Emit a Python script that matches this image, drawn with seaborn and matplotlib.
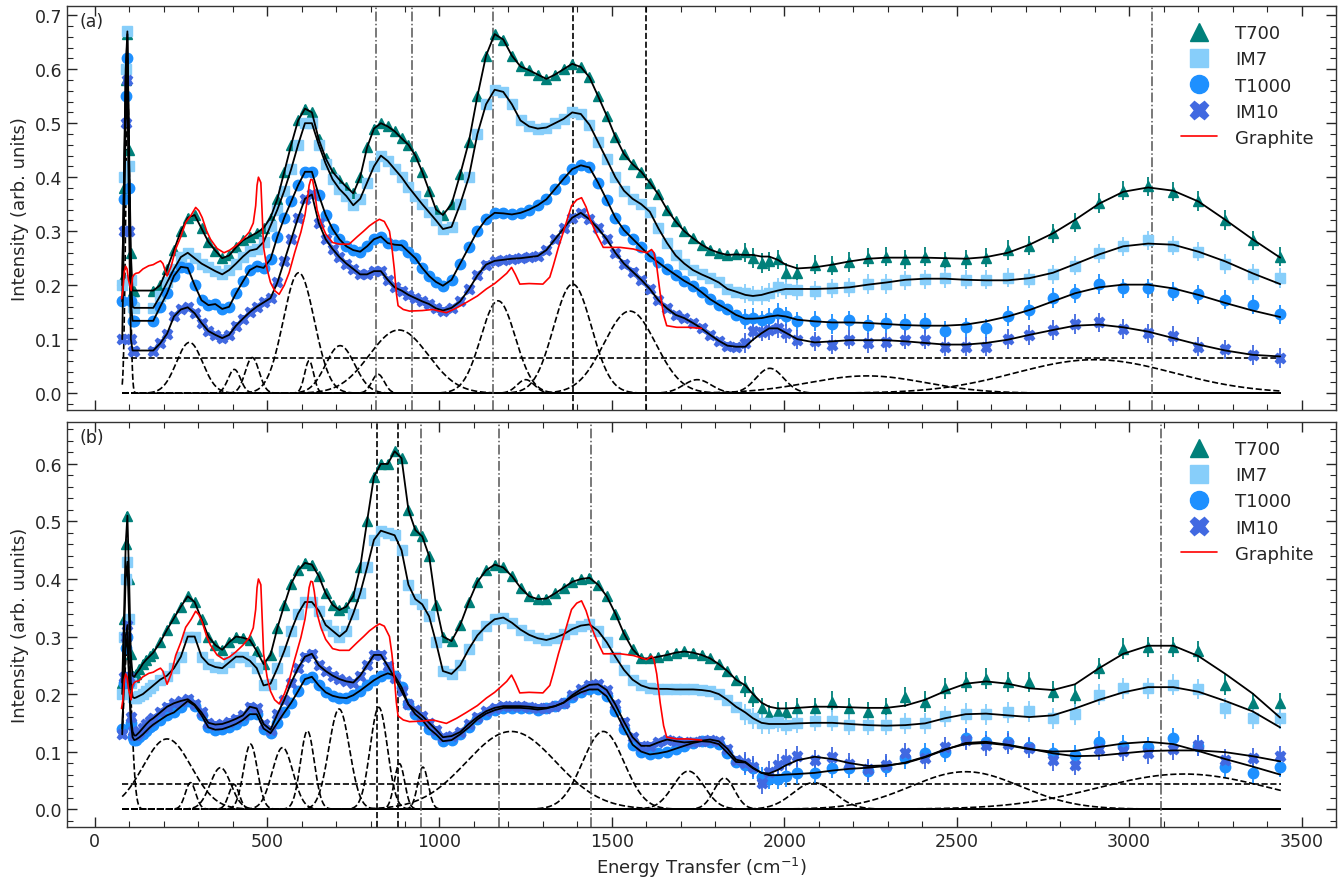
import numpy as np
import pandas as pd
import seaborn as sns
import matplotlib.pyplot as plt
from matplotlib.lines import Line2D
from matplotlib.ticker import MultipleLocator

nan = np.nan

# ---- energy grid (cm^-1) ----
x_lo = [80, 85, 90, 95, 100, 105, 110, 115, 120, 130, 140, 150, 160, 170,
        190, 210, 230, 250, 270, 290, 310, 330, 350, 370, 390, 410, 430, 450, 470, 490,
        510, 530, 550, 570, 590, 610, 630, 650, 670, 690, 710, 730, 750, 770, 790,
        810, 830, 850, 870, 890, 910, 930, 950, 970, 990, 1010,
        1035, 1060, 1085, 1110, 1135, 1160, 1185, 1210, 1235, 1260, 1285, 1310, 1335,
        1360, 1385, 1410, 1435, 1460, 1485, 1510, 1535, 1560, 1585, 1610, 1635, 1660,
        1685, 1710, 1735, 1760, 1785, 1810, 1835, 1860]
x_hi = [1887, 1909, 1934, 1956, 1981, 2004, 2038, 2088, 2139, 2189, 2243, 2296, 2351,
        2408, 2466, 2526, 2585, 2648, 2711, 2779, 2843, 2913, 2983, 3055, 3128, 3201,
        3279, 3358, 3438]

# ---- panel (a) ----
t700_a = [0.21, 0.38, 0.58, 0.665, 0.45, 0.26, 0.19, 0.19, nan, nan, nan, nan, nan, 0.19,
          0.20, 0.23, 0.265, 0.30, 0.325, 0.33, 0.305, 0.28, 0.264, 0.25, 0.255, 0.27, 0.283, 0.29, 0.297, 0.306,
          0.325, 0.36, 0.41, 0.46, 0.505, 0.527, 0.52, 0.47, 0.435, 0.41, 0.395, 0.382, 0.37, 0.40, 0.455,
          0.49, 0.50, 0.494, 0.485, 0.472, 0.46, 0.44, 0.41, 0.375, 0.34, 0.33,
          0.35, 0.405, 0.465, 0.55, 0.625, 0.665, 0.655, 0.625, 0.605, 0.598, 0.59, 0.582, 0.59,
          0.60, 0.61, 0.604, 0.585, 0.55, 0.514, 0.475, 0.443, 0.424, 0.41, 0.39, 0.368, 0.34,
          0.318, 0.30, 0.287, 0.275, 0.266, 0.26, 0.256, 0.257]
im7_a = [0.20, 0.40, 0.60, 0.67, 0.42, 0.21, 0.16, 0.158, nan, nan, nan, nan, nan, 0.158,
         0.18, 0.205, 0.23, 0.252, 0.26, 0.25, 0.24, 0.233, 0.226, 0.22, 0.228, 0.24, 0.253, 0.264, 0.267, 0.28,
         0.31, 0.34, 0.375, 0.415, 0.46, 0.50, 0.50, 0.46, 0.425, 0.396, 0.378, 0.365, 0.348, 0.36, 0.39,
         0.42, 0.44, 0.43, 0.415, 0.40, 0.382, 0.366, 0.35, 0.335, 0.32, 0.304,
         0.308, 0.35, 0.40, 0.48, 0.535, 0.562, 0.558, 0.535, 0.505, 0.494, 0.49, 0.492, 0.50,
         0.508, 0.52, 0.517, 0.497, 0.465, 0.433, 0.40, 0.375, 0.36, 0.35, 0.336, 0.305, 0.278,
         0.255, 0.24, 0.228, 0.22, 0.213, 0.205, 0.193, 0.188]
t1000_a = [0.17, 0.36, 0.55, 0.62, 0.38, 0.17, 0.134, 0.134, nan, nan, nan, nan, nan, 0.134,
           0.16, 0.185, 0.217, 0.234, 0.232, 0.20, 0.172, 0.163, 0.165, 0.156, 0.16, 0.185, 0.207, 0.228, 0.235, 0.232,
           0.248, 0.29, 0.325, 0.355, 0.385, 0.41, 0.41, 0.367, 0.33, 0.304, 0.285, 0.272, 0.265, 0.262, 0.272,
           0.285, 0.29, 0.278, 0.275, 0.274, 0.262, 0.25, 0.232, 0.217, 0.206, 0.199,
           0.21, 0.24, 0.27, 0.30, 0.322, 0.334, 0.333, 0.331, 0.334, 0.34, 0.348, 0.359, 0.378,
           0.397, 0.415, 0.422, 0.418, 0.39, 0.358, 0.325, 0.302, 0.286, 0.27, 0.254, 0.242, 0.23,
           0.219, 0.208, 0.199, 0.187, 0.174, 0.164, 0.155, 0.145]
im10_a = [0.10, 0.30, 0.50, 0.58, 0.30, 0.10, 0.079, 0.079, nan, nan, nan, nan, nan, 0.079,
          0.092, 0.11, 0.142, 0.155, 0.159, 0.148, 0.13, 0.115, 0.108, 0.102, 0.108, 0.125, 0.138, 0.15, 0.16, 0.168,
          0.176, 0.205, 0.245, 0.285, 0.325, 0.36, 0.368, 0.315, 0.285, 0.267, 0.252, 0.24, 0.23, 0.22, 0.22,
          0.226, 0.226, 0.21, 0.196, 0.19, 0.182, 0.176, 0.17, 0.165, 0.157, 0.153,
          0.158, 0.17, 0.192, 0.218, 0.238, 0.245, 0.247, 0.249, 0.25, 0.252, 0.254, 0.265, 0.285,
          0.305, 0.325, 0.334, 0.322, 0.305, 0.285, 0.26, 0.24, 0.225, 0.21, 0.193, 0.172, 0.157,
          0.145, 0.139, 0.13, 0.12, 0.108, 0.097, 0.088, 0.086]

t700_a_hi = [0.261, 0.250, 0.241, 0.244, 0.248, 0.223, 0.222, 0.238, 0.236, 0.243, 0.251, 0.253, 0.248, 0.253,
             0.244, 0.248, 0.251, 0.265, 0.273, 0.296, 0.316, 0.352, 0.375, 0.383, 0.373, 0.356, 0.321, 0.283, 0.253]
im7_a_hi = [0.185, 0.181, 0.181, 0.186, 0.196, 0.193, 0.191, 0.190, 0.194, 0.196, 0.202, 0.202, 0.209, 0.211,
            0.213, 0.210, 0.210, 0.214, 0.212, 0.220, 0.236, 0.259, 0.272, 0.283, 0.273, 0.262, 0.239, 0.221, 0.213]
t1000_a_hi = [0.137, 0.139, 0.135, 0.140, 0.149, 0.142, 0.133, 0.134, 0.128, 0.135, 0.127, 0.130, 0.128, 0.130,
              0.116, 0.122, 0.120, 0.143, 0.154, 0.176, 0.185, 0.202, 0.194, 0.194, 0.188, 0.183, 0.173, 0.164, 0.146]
im10_a_hi = [0.093, 0.115, 0.114, 0.117, 0.120, 0.111, 0.099, 0.096, 0.090, 0.099, 0.093, 0.094, 0.099, 0.099,
             0.086, 0.086, 0.086, 0.100, 0.108, 0.117, 0.128, 0.131, 0.119, 0.111, 0.106, 0.086, 0.081, 0.071, 0.065]

t700_a_fit = [0.256, 0.256, 0.253, 0.253, 0.247, 0.238, 0.231, 0.233, 0.238, 0.244, 0.249, 0.251, 0.251, 0.251,
              0.250, 0.249, 0.252, 0.260, 0.275, 0.296, 0.321, 0.351, 0.373, 0.381, 0.375, 0.355, 0.321, 0.285, 0.251]
im7_a_fit = [0.182, 0.180, 0.182, 0.186, 0.190, 0.193, 0.193, 0.193, 0.194, 0.196, 0.201, 0.205, 0.210, 0.212,
             0.212, 0.210, 0.209, 0.209, 0.213, 0.223, 0.239, 0.257, 0.272, 0.277, 0.275, 0.262, 0.244, 0.222, 0.202]
t1000_a_fit = [0.138, 0.138, 0.139, 0.142, 0.144, 0.142, 0.136, 0.133, 0.131, 0.131, 0.130, 0.128, 0.126, 0.125,
               0.125, 0.127, 0.133, 0.142, 0.154, 0.170, 0.185, 0.196, 0.201, 0.201, 0.194, 0.182, 0.167, 0.153, 0.141]
im10_a_fit = [0.086, 0.099, 0.111, 0.120, 0.120, 0.112, 0.100, 0.094, 0.096, 0.098, 0.098, 0.098, 0.096, 0.093,
              0.090, 0.090, 0.093, 0.099, 0.108, 0.117, 0.125, 0.127, 0.122, 0.114, 0.102, 0.090, 0.079, 0.071, 0.068]

# ---- panel (b) ----
t700_b = [0.22, 0.33, 0.46, 0.51, 0.40, 0.27, 0.232, 0.23, 0.235, 0.243, 0.253, 0.26, 0.266, 0.272,
          0.29, 0.312, 0.332, 0.352, 0.37, 0.36, 0.33, 0.30, 0.285, 0.277, 0.29, 0.30, 0.298, 0.294, 0.275, 0.252,
          0.268, 0.315, 0.355, 0.392, 0.415, 0.428, 0.425, 0.405, 0.375, 0.355, 0.346, 0.352, 0.37, 0.42, 0.50,
          0.578, 0.60, 0.60, 0.622, 0.61, 0.52, 0.485, 0.474, 0.44, 0.355, 0.30,
          0.292, 0.32, 0.36, 0.395, 0.415, 0.425, 0.42, 0.405, 0.385, 0.37, 0.365, 0.366, 0.375,
          0.385, 0.395, 0.40, 0.402, 0.39, 0.37, 0.34, 0.305, 0.278, 0.262, 0.262, 0.265, 0.268,
          0.272, 0.274, 0.272, 0.268, 0.262, 0.252, 0.24, 0.225]
im7_b = [0.20, 0.30, 0.40, 0.43, 0.33, 0.22, 0.195, 0.193, 0.194, 0.197, 0.20, 0.205, 0.21, 0.215,
         0.225, 0.232, 0.245, 0.265, 0.30, 0.30, 0.265, 0.252, 0.247, 0.245, 0.255, 0.265, 0.265, 0.258, 0.245, 0.215,
         0.218, 0.245, 0.275, 0.31, 0.34, 0.36, 0.36, 0.345, 0.32, 0.31, 0.30, 0.31, 0.34, 0.375, 0.42,
         0.468, 0.484, 0.48, 0.476, 0.45, 0.39, 0.365, 0.356, 0.335, 0.29, 0.24,
         0.235, 0.25, 0.278, 0.302, 0.318, 0.33, 0.333, 0.324, 0.312, 0.303, 0.297, 0.294, 0.298,
         0.304, 0.313, 0.319, 0.321, 0.31, 0.29, 0.265, 0.242, 0.225, 0.215, 0.21, 0.209, 0.209,
         0.208, 0.208, 0.208, 0.207, 0.205, 0.20, 0.19, 0.178]
t1000_b = [0.14, 0.22, 0.28, 0.30, 0.22, 0.15, 0.125, 0.12, 0.121, 0.125, 0.13, 0.136, 0.142, 0.147,
           0.155, 0.163, 0.168, 0.178, 0.188, 0.18, 0.163, 0.142, 0.138, 0.139, 0.143, 0.148, 0.155, 0.165, 0.165, 0.14,
           0.132, 0.15, 0.168, 0.185, 0.205, 0.226, 0.23, 0.215, 0.203, 0.197, 0.194, 0.193, 0.198, 0.206, 0.215,
           0.224, 0.231, 0.236, 0.232, 0.212, 0.182, 0.165, 0.155, 0.14, 0.13, 0.118,
           0.12, 0.13, 0.142, 0.156, 0.166, 0.172, 0.176, 0.176, 0.176, 0.175, 0.173, 0.175, 0.179,
           0.185, 0.195, 0.203, 0.208, 0.208, 0.196, 0.17, 0.14, 0.112, 0.10, 0.095, 0.097, 0.10,
           0.105, 0.11, 0.115, 0.118, 0.117, 0.113, 0.098, 0.082]
im10_b = [0.13, 0.23, 0.30, 0.32, 0.23, 0.16, 0.135, 0.128, 0.128, 0.134, 0.141, 0.148, 0.154, 0.158,
          0.168, 0.178, 0.184, 0.188, 0.191, 0.182, 0.168, 0.15, 0.147, 0.148, 0.152, 0.157, 0.163, 0.178, 0.175, 0.148,
          0.138, 0.165, 0.19, 0.22, 0.245, 0.265, 0.27, 0.25, 0.24, 0.232, 0.226, 0.222, 0.22, 0.232, 0.25,
          0.268, 0.268, 0.249, 0.228, 0.205, 0.182, 0.172, 0.162, 0.15, 0.138, 0.125,
          0.127, 0.134, 0.148, 0.16, 0.17, 0.176, 0.179, 0.179, 0.179, 0.178, 0.176, 0.176, 0.179,
          0.185, 0.198, 0.208, 0.216, 0.217, 0.207, 0.182, 0.152, 0.125, 0.11, 0.11, 0.116, 0.121,
          0.118, 0.116, 0.117, 0.119, 0.121, 0.118, 0.105, 0.086]

t700_b_hi = [0.213, 0.195, 0.175, 0.163, 0.169, 0.169, 0.175, 0.175, 0.187, 0.175, 0.169, 0.175, 0.195, 0.187,
             0.210, 0.221, 0.227, 0.221, 0.221, 0.204, 0.198, 0.245, 0.279, 0.282, 0.282, 0.274, 0.216, 0.184, 0.184]
im7_b_hi = [0.165, 0.158, 0.149, 0.149, 0.152, 0.146, 0.150, 0.154, 0.154, 0.147, 0.147, 0.146, 0.149, 0.149,
            0.161, 0.166, 0.165, 0.168, 0.170, 0.158, 0.165, 0.199, 0.210, 0.210, 0.216, 0.209, 0.175, 0.158, 0.158]
t1000_b_hi = [0.077, 0.071, 0.056, 0.053, 0.053, 0.057, 0.062, 0.063, 0.072, 0.072, 0.066, 0.074, 0.088, 0.097,
              0.100, 0.123, 0.117, 0.117, 0.108, 0.097, 0.094, 0.117, 0.110, 0.108, 0.123, 0.110, 0.074, 0.063, 0.074]
im10_b_hi = [0.081, 0.074, 0.045, 0.065, 0.077, 0.086, 0.092, 0.085, 0.090, 0.079, 0.069, 0.077, 0.097, 0.088,
             0.108, 0.121, 0.111, 0.114, 0.106, 0.085, 0.077, 0.104, 0.101, 0.097, 0.104, 0.111, 0.086, 0.088, 0.092]

t700_b_fit = [0.215, 0.200, 0.185, 0.178, 0.175, 0.175, 0.176, 0.178, 0.178, 0.177, 0.176, 0.176, 0.180, 0.190,
              0.205, 0.218, 0.222, 0.218, 0.210, 0.207, 0.217, 0.245, 0.270, 0.284, 0.284, 0.266, 0.235, 0.201, 0.159]
im7_b_fit = [0.168, 0.158, 0.150, 0.148, 0.148, 0.148, 0.149, 0.150, 0.150, 0.148, 0.146, 0.145, 0.146, 0.149,
             0.158, 0.165, 0.166, 0.163, 0.160, 0.163, 0.175, 0.190, 0.203, 0.212, 0.212, 0.204, 0.188, 0.170, 0.142]
t1000_b_fit = [0.081, 0.071, 0.063, 0.059, 0.059, 0.060, 0.061, 0.063, 0.067, 0.070, 0.072, 0.075, 0.081, 0.091,
               0.104, 0.113, 0.115, 0.111, 0.104, 0.100, 0.101, 0.108, 0.114, 0.117, 0.113, 0.101, 0.087, 0.074, 0.060]
im10_b_fit = [0.082, 0.072, 0.063, 0.062, 0.068, 0.076, 0.085, 0.091, 0.087, 0.080, 0.075, 0.076, 0.080, 0.090,
              0.103, 0.115, 0.117, 0.112, 0.105, 0.097, 0.092, 0.093, 0.097, 0.101, 0.102, 0.102, 0.099, 0.092, 0.083]

# ---- graphite reference ----
graphite_x = [78, 82, 86, 90, 94, 98, 102, 106, 110, 115, 120, 128, 140, 157, 170, 181, 191, 198, 210, 222,
              235, 250, 264, 280, 293, 302, 312, 325, 336, 355, 375, 392, 409, 430, 448, 460, 467, 471,
              475, 482, 486, 490, 500, 510, 522, 535, 550, 564, 580, 598, 610, 617, 622, 627, 632, 637,
              645, 656, 670, 690, 710, 738, 762, 780, 797, 815, 826, 840, 855, 862, 869, 875, 880, 895,
              913, 950, 981, 1000, 1020, 1050, 1078, 1110, 1136, 1160, 1175, 1195, 1209, 1220, 1233,
              1260, 1300, 1320, 1330, 1345, 1359, 1372, 1383, 1398, 1412, 1425, 1437, 1455, 1475, 1500,
              1524, 1562, 1590, 1601, 1615, 1622, 1630, 1640, 1650, 1659, 1688, 1720, 1760]
graphite_y = [0.175, 0.19, 0.225, 0.235, 0.23, 0.21, 0.20, 0.19, 0.215, 0.22, 0.222, 0.223, 0.23, 0.236, 0.238,
              0.242, 0.245, 0.24, 0.217, 0.235, 0.267, 0.29, 0.316, 0.33, 0.344, 0.338, 0.325, 0.30, 0.285,
              0.268, 0.26, 0.265, 0.273, 0.285, 0.298, 0.315, 0.347, 0.385, 0.40, 0.39, 0.33, 0.27, 0.23,
              0.205, 0.19, 0.183, 0.20, 0.223, 0.26, 0.298, 0.33, 0.359, 0.385, 0.396, 0.395, 0.378, 0.34,
              0.316, 0.295, 0.279, 0.276, 0.276, 0.29, 0.30, 0.31, 0.318, 0.322, 0.318, 0.30, 0.27, 0.23,
              0.185, 0.162, 0.155, 0.152, 0.153, 0.155, 0.152, 0.149, 0.158, 0.168, 0.18, 0.193, 0.203,
              0.211, 0.222, 0.233, 0.22, 0.202, 0.203, 0.202, 0.215, 0.236, 0.27, 0.298, 0.325, 0.347,
              0.358, 0.362, 0.345, 0.322, 0.295, 0.27, 0.27, 0.27, 0.267, 0.262, 0.26, 0.266, 0.26, 0.235,
              0.185, 0.145, 0.125, 0.122, 0.122, 0.12]

# ---- fitted gaussian components (centre, height, sigma) ----
comp_a_centre = [96, 275, 405, 457, 592, 622, 712, 822, 882, 1170, 1250, 1386, 1552, 1748, 1958, 2240, 2900]
comp_a_height = [0.55, 0.094, 0.044, 0.066, 0.223, 0.060, 0.088, 0.035, 0.117, 0.171, 0.025, 0.202, 0.152,
                 0.025, 0.046, 0.032, 0.062]
comp_a_sigma = [6, 38, 18, 20, 45, 13, 42, 18, 85, 50, 25, 55, 75, 40, 40, 170, 230]
comp_b_centre = [95, 210, 278, 365, 404, 452, 545, 617, 709, 824, 884, 952, 1208, 1475, 1722, 1826, 2085,
                 2526, 3159]
comp_b_height = [0.28, 0.122, 0.046, 0.072, 0.043, 0.113, 0.107, 0.136, 0.174, 0.177, 0.079, 0.073, 0.135,
                 0.135, 0.066, 0.054, 0.046, 0.065, 0.061]
comp_b_sigma = [12, 70, 15, 30, 15, 20, 30, 20, 30, 25, 15, 15, 130, 60, 45, 30, 60, 160, 250]
baseline_a = 0.066
baseline_b = 0.043

vdash_a = [1387, 1599]
vdashdot_a = [817, 919, 1154, 3066]
vdash_b = [820, 880]
vdashdot_b = [947, 1172, 1439, 3093]

err_lo = 0.006
err_hi = 0.018

samples = ['T700', 'IM7', 'T1000', 'IM10']
colors = {'T700': '#00807a', 'IM7': '#87cefa', 'T1000': '#1e90ff', 'IM10': '#4169e1'}
markers = {'T700': '^', 'IM7': 's', 'T1000': 'o', 'IM10': 'X'}

panel_a = {'T700': (t700_a, t700_a_hi, t700_a_fit), 'IM7': (im7_a, im7_a_hi, im7_a_fit),
           'T1000': (t1000_a, t1000_a_hi, t1000_a_fit), 'IM10': (im10_a, im10_a_hi, im10_a_fit)}
panel_b = {'T700': (t700_b, t700_b_hi, t700_b_fit), 'IM7': (im7_b, im7_b_hi, im7_b_fit),
           'T1000': (t1000_b, t1000_b_hi, t1000_b_fit), 'IM10': (im10_b, im10_b_hi, im10_b_fit)}

sns.set_style("ticks")
plt.rcParams['font.family'] = ['DejaVu Sans']
plt.rcParams['font.size'] = 12.5

fig = plt.figure(figsize=(13.41, 8.78), dpi=100)
ax_a = fig.add_axes([0.050, 0.532, 0.9463, 0.460])
ax_b = fig.add_axes([0.050, 0.057, 0.9463, 0.4613])

x_comp = np.linspace(80, 3440, 3000)


def draw_panel(ax, data, cen, hei, sig, base, vdash, vdashdot):
    # gaussian components and flat background
    for c, h, s in zip(cen, hei, sig):
        ax.plot(x_comp, h * np.exp(-0.5 * ((x_comp - c) / s) ** 2), ls='--', color='k', lw=1.2, zorder=1)
    ax.hlines(base, 80, 3440, colors='k', linestyles='--', lw=1.2, zorder=1)
    for v in vdash:
        ax.axvline(v, ls='--', color='k', lw=1.2, zorder=1)
    for v in vdashdot:
        ax.axvline(v, ls='-.', color='#555555', lw=1.1, zorder=1)

    for name in samples:
        lo, hi, fit = data[name]
        df = pd.DataFrame({'x': x_lo + x_hi, 'y': lo + hi,
                           'err': [err_lo] * len(x_lo) + [err_hi] * len(x_hi)}).dropna()
        ax.errorbar(df['x'], df['y'], yerr=df['err'], fmt=markers[name], ms=7.5, color=colors[name],
                    ecolor=colors[name], elinewidth=1.3, capsize=0, ls='none', zorder=2)
        dfit = pd.DataFrame({'x': x_lo + x_hi, 'y': lo + fit}).dropna()
        sns.lineplot(data=dfit, x='x', y='y', ax=ax, color='k', lw=1.3, sort=False,
                     estimator=None, zorder=4)

    sns.lineplot(x=graphite_x, y=graphite_y, ax=ax, color='red', lw=1.2, sort=False,
                 estimator=None, zorder=5)

    ax.set_xlim(-80, 3600)
    ax.xaxis.set_major_locator(MultipleLocator(500))
    ax.xaxis.set_minor_locator(MultipleLocator(100))
    ax.yaxis.set_major_locator(MultipleLocator(0.1))
    ax.yaxis.set_minor_locator(MultipleLocator(0.02))
    ax.tick_params(which='both', direction='in', top=True, right=True, labelsize=12.5)
    ax.tick_params(which='major', length=7, width=1)
    ax.tick_params(which='minor', length=4, width=0.8)
    for sp in ax.spines.values():
        sp.set_linewidth(1.0)
        sp.set_color('#333333')

    handles = [Line2D([], [], marker=markers[n], color=colors[n], ls='none', ms=13) for n in samples]
    handles.append(Line2D([], [], color='red', lw=1.2))
    ax.legend(handles, samples + ['Graphite'], loc='upper right', frameon=False, fontsize=13,
              bbox_to_anchor=(0.995, 0.995), handletextpad=1.0, labelspacing=0.45)


draw_panel(ax_a, panel_a, comp_a_centre, comp_a_height, comp_a_sigma, baseline_a, vdash_a, vdashdot_a)
draw_panel(ax_b, panel_b, comp_b_centre, comp_b_height, comp_b_sigma, baseline_b, vdash_b, vdashdot_b)

ax_a.set_ylim(-0.031, 0.717)
ax_b.set_ylim(-0.031, 0.673)
ax_a.tick_params(labelbottom=False)
ax_a.set_xlabel('')
ax_a.set_ylabel('Intensity (arb. units)', fontsize=13)
ax_b.set_ylabel('Intensity (arb. uunits)', fontsize=13)
ax_b.set_xlabel('Energy Transfer (cm$^{-1}$)', fontsize=13)
ax_a.text(0.01, 0.985, '(a)', transform=ax_a.transAxes, va='top', fontsize=12.5)
ax_b.text(0.01, 0.985, '(b)', transform=ax_b.transAxes, va='top', fontsize=12.5)

fig.savefig('out.png', dpi=100)
